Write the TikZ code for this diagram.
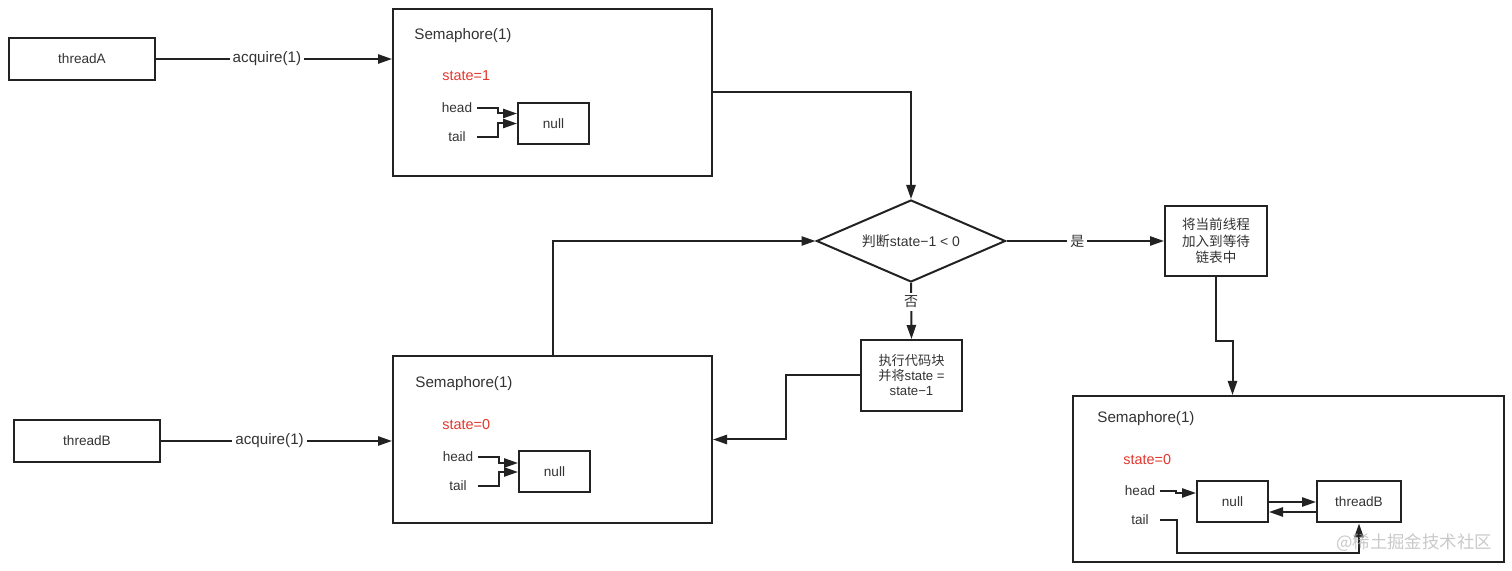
\documentclass[tikz,border=0pt]{standalone}
\usepackage{fontspec}
\setmainfont{Liberation Sans}
\newfontfamily\cjk{Noto Sans CJK SC}
\usetikzlibrary{shapes.geometric, arrows.meta}
\definecolor{stateRed}{RGB}{226,54,44}
\definecolor{lineGray}{RGB}{34,34,34}
\definecolor{txtGray}{RGB}{51,51,51}
\tikzstyle{thread} = [rectangle, minimum width=73pt, minimum height=21pt, text centered, draw=lineGray, line width=1pt, text=txtGray, font=\fontsize{6.8}{8}\selectfont]
\tikzstyle{sem} = [rectangle, minimum width=159.5pt, minimum height=83.5pt, draw=lineGray, line width=1pt]
\tikzstyle{semtitle} = [anchor=west, inner sep=0pt, text=txtGray, font=\fontsize{7.6}{9}\selectfont]
\tikzstyle{statetxt} = [anchor=west, inner sep=0pt, text=stateRed, font=\fontsize{7.2}{9}\selectfont]
\tikzstyle{ptr} = [minimum width=20pt, inner sep=0pt, text=txtGray, font=\fontsize{6.8}{8}\selectfont]
\tikzstyle{qnode} = [rectangle, minimum width=35.5pt, minimum height=20.5pt, draw=lineGray, line width=1pt, text=txtGray, font=\fontsize{6.8}{8}\selectfont]
\tikzstyle{decision} = [diamond, aspect=2.3, minimum width=94.5pt, minimum height=41pt, inner sep=0pt, draw=lineGray, line width=1pt, text=txtGray, font=\fontsize{7}{8}\selectfont]
\tikzstyle{process} = [rectangle, minimum width=51pt, minimum height=35.5pt, align=center, draw=lineGray, line width=1pt, text=txtGray]
\tikzstyle{arrow} = [line width=1pt, draw=lineGray, -{Triangle[length=7pt,width=4.6pt]}]
\tikzstyle{lbl} = [fill=white, inner sep=1.5pt, text=txtGray, font=\fontsize{7.6}{9}\selectfont]

\begin{document}
\begin{tikzpicture}[x=0.5pt, y=-0.5pt]
\useasboundingbox (0,0) rectangle (1512,571);

%threads
\node (threadA) [thread] at (82,59) {threadA};
\node (threadB) [thread] at (87,441) {threadB};

%Semaphore A
\node (semA) [sem] at (552.5,92.5) {};
\node (titleA) [semtitle] at (414,36) {Semaphore(1)};
\node (stateA) [statetxt] at (442,76) {state=1};
\node (headA) [ptr] at (457,108) {head};
\node (tailA) [ptr] at (457,137) {tail};
\node (nullA) [qnode] at (553.5,123.5) {null};

%Semaphore B
\node (semB) [sem] at (552.5,439.5) {};
\node (titleB) [semtitle] at (415,384) {Semaphore(1)};
\node (stateB) [statetxt] at (442,425) {state=0};
\node (headB) [ptr] at (458,457) {head};
\node (tailB) [ptr] at (458,486) {tail};
\node (nullB) [qnode] at (554.5,472) {null};

%decision
\node (judge) [decision] at (911,241) {{\cjk 判断}state−1 < 0};
\node (wait) [process, minimum height=35pt, font=\fontsize{6.8}{8.3}\selectfont] at (1216,241) {\cjk 将当前线程\\\cjk 加入到等待\\\cjk 链表中};
\node (exec) [process, minimum width=50.5pt, font=\fontsize{6.6}{7.5}\selectfont] at (911.5,375.5) {{\cjk 执行代码块}\\{\cjk 并将}state =\\state−1};

%Semaphore waiting
\node (semW) [sem, minimum width=215.5pt, minimum height=83pt] at (1288.5,479) {};
\node (titleW) [semtitle] at (1097,419) {Semaphore(1)};
\node (stateW) [statetxt] at (1123,460) {state=0};
\node (headW) [ptr] at (1140,491) {head};
\node (tailW) [ptr] at (1140,520) {tail};
\node (nullW) [qnode] at (1232.5,502) {null};
\node (tbW) [qnode, minimum width=42pt] at (1359,502) {threadB};

%arrows
\draw [arrow] (threadA.east) -- node[lbl, pos=0.47] {acquire(1)} (threadA.east -| semA.west);
\draw [arrow] (threadB.east) -- node[lbl, pos=0.47] {acquire(1)} (threadB.east -| semB.west);
\draw [arrow] (headA.east) -- ++(21,0) |- ([yshift=5pt]nullA.west);
\draw [arrow] (tailA.east) -- ++(21,0) |- (nullA.west);
\draw [arrow] (headB.east) -- ++(21,0) |- ([yshift=4.5pt]nullB.west);
\draw [arrow] (tailB.east) -- ++(21,0) |- (nullB.west);
\draw [arrow] (semA.east) -| (judge.north);
\draw [arrow] (semB.north) |- (judge.west);
\draw [arrow] (judge.east) -- node[lbl, pos=0.45, font=\fontsize{7}{8}\selectfont\cjk] {是} (wait.west);
\draw [arrow] (judge.south) -- node[lbl, pos=0.34, font=\fontsize{7}{8}\selectfont\cjk] {否} (exec.north);
\draw [arrow] (exec.west) -- ++(-74,0) |- (semB.east);
\draw [arrow] (wait.south) -- ++(0,64) -| ([xshift=-28pt]semW.north);
\draw [arrow] (headW.east) -- ++(16,0) |- ([yshift=4.5pt]nullW.west);
\draw [arrow] (nullW.east) -- (tbW.west);
\draw [arrow] ([yshift=-5pt]tbW.west) -- ([yshift=-5pt]nullW.east);
\draw [arrow] (tailW.east) -- ++(17,0) -- ++(0,33) -| (tbW.south);

%watermark
\node (mark) [text=gray!60, text opacity=0.7, font=\fontsize{8.7}{10}\selectfont\cjk] at (1414,543) {@稀土掘金技术社区};

\end{tikzpicture}
\end{document}
